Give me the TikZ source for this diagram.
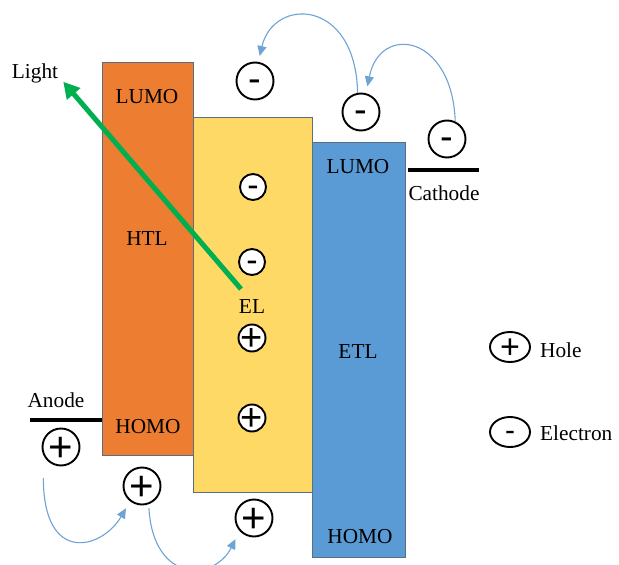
\documentclass[tikz,border=0pt]{standalone}
\usepackage{fontspec}
\setmainfont{Liberation Serif}
\newfontfamily\signfont{Liberation Sans}
\usetikzlibrary{arrows.meta,shapes.geometric}
\definecolor{htlc}{HTML}{ED7D31}
\definecolor{elc}{HTML}{FFD966}
\definecolor{etlc}{HTML}{5B9BD5}
\definecolor{edgec}{HTML}{5A6E80}
\definecolor{flowc}{HTML}{6FA3D6}
\definecolor{lightc}{HTML}{00B050}
\newcommand{\plussign}[1]{{\fontsize{#1}{#1}\selectfont\signfont\makebox[0pt][c]{\raisebox{-0.34em}[0pt][0pt]{+}}}}
\newcommand{\minussign}[1]{{\fontsize{#1}{#1}\selectfont\signfont\makebox[0pt][c]{\raisebox{-0.27em}[0pt][0pt]{-}}}}
\tikzset{
  layer/.style={draw=edgec, line width=1.3pt, anchor=north west, inner sep=0pt},
  lbl/.style={inner sep=0pt, anchor=base, font=\fontsize{21.3}{24}\selectfont},
  chg/.style={circle, draw=black, line width=1.9pt, fill=white, inner sep=0pt, minimum size=#1},
  legc/.style={ellipse, draw=black, line width=1.9pt, fill=white, inner sep=0pt, minimum width=40pt, minimum height=30pt},
  flow/.style={draw=flowc, line width=1.1pt, -{Triangle[length=10pt,width=9pt]}},
  glow/.style={draw=lightc, line width=5pt, -{Triangle[length=16pt,width=17pt]}},
  electrode/.style={draw=black, line width=4.5pt}
}
\begin{document}
\begin{tikzpicture}[x=1pt,y=-1pt]
\fill[white] (0,0) rectangle (619,565);
\useasboundingbox (0,0) rectangle (619,565);

% layers
\node[layer, fill=htlc, minimum width=91pt, minimum height=393pt] (htl) at (102,62) {};
\node[layer, fill=elc, minimum width=119pt, minimum height=375pt] (el) at (193,117) {};
\node[layer, fill=etlc, minimum width=93pt, minimum height=415pt] (etl) at (312,142) {};

% electrodes
\coordinate (anodeend) at (30,420);
\draw[electrode] (anodeend) -- (anodeend -| htl.west);
\coordinate (cathodeend) at (479,170);
\draw[electrode] (cathodeend) -- ([xshift=2pt]cathodeend -| etl.east);

% labels
\node[lbl] (light) at (35,78) {Light};
\node[lbl] (htllumo) at (147,103) {LUMO};
\node[lbl] (htlname) at (147,245) {HTL};
\node[lbl] (htlhomo) at (148,433) {HOMO};
\node[lbl] (elname) at (252,313) {EL};
\node[lbl] (etllumo) at (358,173) {LUMO};
\node[lbl] (etlname) at (358,358) {ETL};
\node[lbl] (etlhomo) at (360,543) {HOMO};
\node[lbl] (anode) at (56,407) {Anode};
\node[lbl] (cathode) at (444,200) {Cathode};
\node[lbl, anchor=base west] (hole) at (540,357) {Hole};
\node[lbl, anchor=base west] (electron) at (540,440) {Electron};

% charges
\node[chg=37pt] (m1) at (255,81) {\minussign{38}};
\node[chg=37pt] (m2) at (361,112) {\minussign{38}};
\node[chg=37pt] (m3) at (447,139) {\minussign{38}};
\node[chg=26pt] (m4) at (253,187) {\minussign{34}};
\node[chg=26pt] (m5) at (252,262) {\minussign{34}};
\node[chg=27pt] (p4) at (252,338) {\plussign{38}};
\node[chg=27pt] (p5) at (252,418) {\plussign{38}};
\node[chg=37pt] (a1) at (61,447) {\plussign{42}};
\node[chg=37pt] (p2) at (142,486) {\plussign{42}};
\node[chg=37pt] (p3) at (254,518) {\plussign{42}};
\node[legc] (lh) at (510,347) {\plussign{34}};
\node[legc] (le) at (510,432) {\minussign{30}};

% light emission
\coordinate (emit) at (241,289);
\draw[glow] (emit) -- ([xshift=5pt,yshift=1pt]light.south east);

% carrier hops
\draw[flow, shorten >=7pt] (m3.65) .. controls +(-3,-87) and +(14,-70) .. (m2.75);
\draw[flow, shorten >=6pt] (m2.100) .. controls +(-2,-95) and +(15,-65) .. (m1.80);
\draw[flow, shorten <=23pt, shorten >=8pt] (a1.205) .. controls +(0,110) and +(-28,48) .. (p2.232);
\draw[flow, shorten <=4pt, shorten >=9pt] (p2.290) .. controls +(5,80) and +(-25,50) .. (p3.222);
\end{tikzpicture}
\end{document}
